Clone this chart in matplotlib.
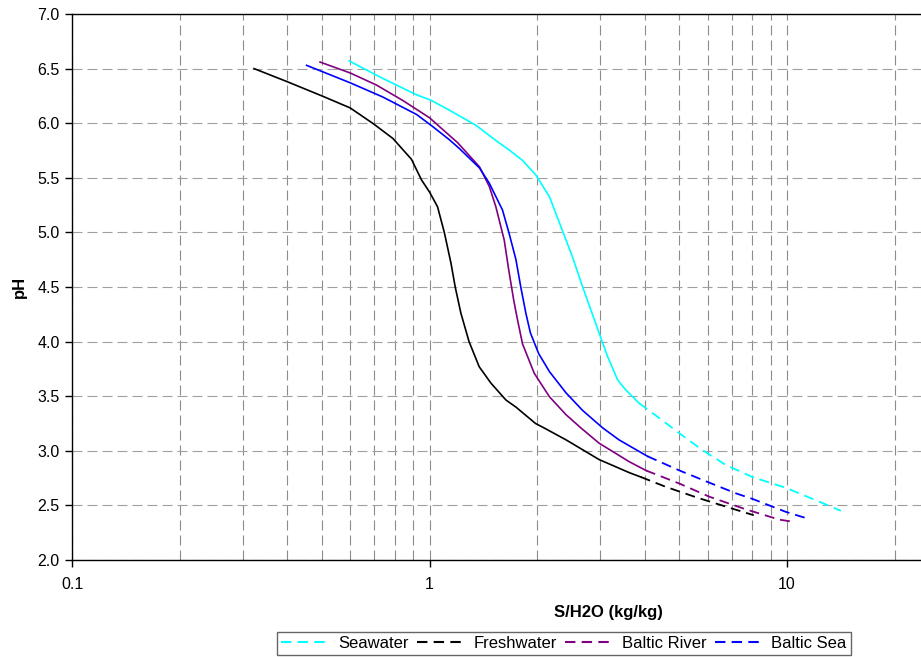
import matplotlib
matplotlib.use("Agg")
from matplotlib import pyplot as plt
from matplotlib.lines import Line2D
from matplotlib.ticker import FixedLocator, FuncFormatter, NullFormatter
import numpy as np

plt.rcParams['font.family'] = ['Liberation Sans', 'DejaVu Sans']

# values; *_solid = last index of the solid part,
# the rest of each curve is drawn dashed
sea_x = [0.596, 0.74, 0.92, 1.01, 1.135, 1.35, 1.55, 1.67, 1.82, 1.983, 2.165, 2.36, 2.51,
         2.68, 2.983, 3.15, 3.36, 3.54, 3.86, 4.39, 5.0, 5.78, 6.74, 8.0, 9.94, 12.6, 14.15]
sea_y = [6.57, 6.41, 6.26, 6.21, 6.12, 5.98, 5.83, 5.755, 5.66, 5.526, 5.327, 5.007, 4.777,
         4.503, 4.076, 3.862, 3.648, 3.557, 3.435, 3.30, 3.16, 3.01, 2.87, 2.76, 2.66, 2.52, 2.45]
sea_solid = 18

fresh_x = [0.323, 0.40, 0.50, 0.60, 0.70, 0.79, 0.89, 0.95, 1.0, 1.053, 1.10, 1.148, 1.18,
           1.224, 1.29, 1.377, 1.485, 1.636, 1.745, 1.98, 2.09, 2.41, 2.98, 3.62, 3.90,
           4.58, 5.62, 7.2, 8.07]
fresh_y = [6.50, 6.38, 6.25, 6.14, 5.99, 5.86, 5.67, 5.48, 5.37, 5.235, 5.00, 4.72, 4.50,
           4.26, 4.00, 3.77, 3.62, 3.465, 3.40, 3.25, 3.21, 3.10, 2.92, 2.80, 2.76,
           2.67, 2.57, 2.46, 2.41]
fresh_solid = 24

river_x = [0.494, 0.60, 0.71, 0.84, 1.0, 1.135, 1.20, 1.38, 1.47, 1.533, 1.618, 1.665,
           1.72, 1.755, 1.82, 1.963, 2.165, 2.41, 2.65, 2.98, 3.62, 4.03,
           5.0, 6.06, 7.57, 9.5, 10.4]
river_y = [6.56, 6.46, 6.35, 6.21, 6.05, 5.89, 5.82, 5.60, 5.42, 5.235, 4.93, 4.66,
           4.38, 4.23, 3.98, 3.71, 3.495, 3.33, 3.21, 3.07, 2.90, 2.82,
           2.70, 2.58, 2.47, 2.37, 2.35]
river_solid = 21

bsea_x = [0.453, 0.60, 0.74, 0.92, 1.02, 1.135, 1.21, 1.38, 1.47, 1.60, 1.67, 1.745, 1.80,
          1.86, 1.915, 2.02, 2.165, 2.41, 2.68, 3.05, 3.39, 4.07,
          5.0, 5.94, 7.2, 8.0, 9.94, 11.4]
bsea_y = [6.53, 6.37, 6.24, 6.08, 5.97, 5.85, 5.77, 5.59, 5.45, 5.205, 4.99, 4.75, 4.50,
          4.26, 4.08, 3.89, 3.725, 3.53, 3.37, 3.21, 3.10, 2.95,
          2.82, 2.72, 2.61, 2.56, 2.44, 2.38]
bsea_solid = 21

names = ['Seawater', 'Freshwater', 'Baltic River', 'Baltic Sea']
colors = ['#00ffff', '#000000', '#800080', '#0000ff']

fig = plt.figure(figsize=(9.21, 6.57), dpi=100)
ax = fig.add_axes([72/921, 1-560/657, 1-72/921, (560-14)/657])

dash = (0, (5.5, 3.3))
series = [(sea_x, sea_y, sea_solid), (fresh_x, fresh_y, fresh_solid),
          (river_x, river_y, river_solid), (bsea_x, bsea_y, bsea_solid)]
for (xs, ys, k), c in zip(series, colors):
    ax.plot(xs[:k+1], ys[:k+1], '-', color=c, lw=1.2, zorder=3)
    ax.plot(xs[k:], ys[k:], color=c, lw=1.3, linestyle=dash, zorder=3)

ax.set_xscale('log')
ax.set_xlim(0.1, 23.7)
ax.set_ylim(2.0, 7.0)
ax.set_yticks(np.arange(2.0, 7.01, 0.5))
ax.yaxis.set_major_formatter(FuncFormatter(lambda v, p: '%.1f' % v))
ax.xaxis.set_major_locator(FixedLocator([0.1, 1, 10]))
ax.xaxis.set_major_formatter(FuncFormatter(lambda v, p: '%g' % v))
ax.xaxis.set_minor_locator(FixedLocator([0.2, 0.3, 0.4, 0.5, 0.6, 0.7, 0.8, 0.9,
                                         2, 3, 4, 5, 6, 7, 8, 9, 20]))
ax.xaxis.set_minor_formatter(NullFormatter())
ax.tick_params(axis='both', which='major', direction='out', length=5, width=1,
               labelsize=11.5, colors='black')
ax.tick_params(axis='x', which='major', pad=7)
ax.tick_params(axis='y', which='major', pad=4)
ax.tick_params(axis='x', which='minor', length=0)

gs = (0, (9, 4.5))
ax.grid(True, which='both', axis='x', color='#8c8c8c', lw=0.8, linestyle=gs, zorder=0)
ax.grid(True, which='major', axis='y', color='#a0a0a0', lw=0.8, linestyle=gs, zorder=0)
ax.set_axisbelow(True)

ax.spines['right'].set_visible(False)
for s in ['left', 'bottom', 'top']:
    ax.spines[s].set_color('black')
    ax.spines[s].set_linewidth(1)

ax.set_ylabel('pH', fontsize=12, fontweight='bold')
ax.yaxis.set_label_coords(-45/849, 0.5)
fig.text(608/921, 1-613/657, 'S/H2O (kg/kg)', fontsize=12, fontweight='bold',
         ha='center', va='center')

handles = [Line2D([], [], color=c, lw=1.5, linestyle=(0, (5, 3))) for c in colors]
leg = fig.legend(handles, names, loc='center', bbox_to_anchor=(564/921, 1-643.5/657),
                 ncol=4, fontsize=12, frameon=True, fancybox=False, handlelength=3.0,
                 handletextpad=0.4, columnspacing=0.5, borderpad=0.25, borderaxespad=0)
leg.get_frame().set_edgecolor('#404040')
leg.get_frame().set_linewidth(1)

fig.savefig('out.png', dpi=100)
